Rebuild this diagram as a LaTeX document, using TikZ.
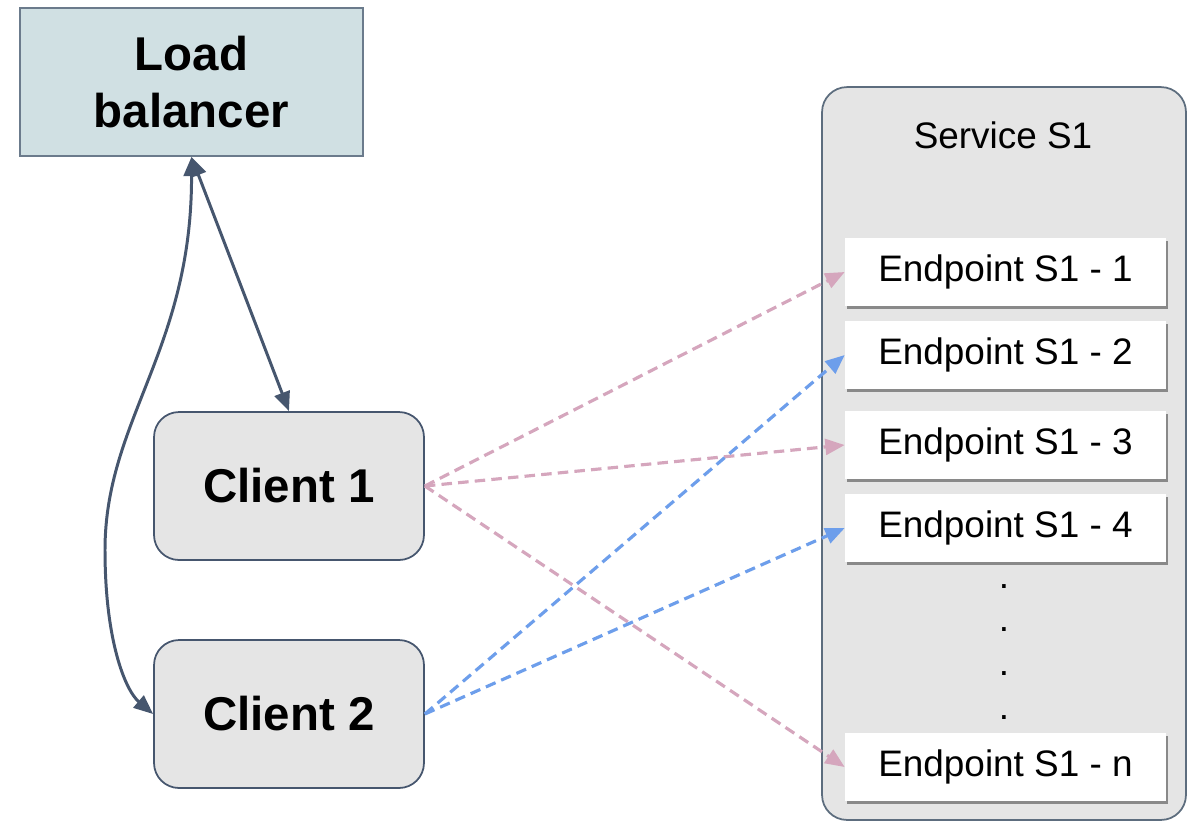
\documentclass[tikz,border=0pt]{standalone}
\usepackage{fontspec}
\setmainfont{Liberation Sans}
\usetikzlibrary{arrows.meta,shadows}
\definecolor{lbfill}{HTML}{D0E0E3}
\definecolor{lbline}{HTML}{6B7B8C}
\definecolor{boxfill}{HTML}{E5E5E5}
\definecolor{slate}{HTML}{46566E}
\definecolor{svcline}{HTML}{5D6D7E}
\definecolor{pinkarrow}{HTML}{D5A6BD}
\definecolor{bluearrow}{HTML}{6D9EEB}
\tikzset{
  lbbox/.style={draw=lbline, fill=lbfill, line width=1pt, inner sep=0pt,
    minimum width=6.86cm, minimum height=2.96cm, align=center,
    font=\fontsize{27}{32}\selectfont\bfseries},
  clientbox/.style={draw=slate, fill=boxfill, line width=1pt, inner sep=0pt,
    rounded corners=0.5cm, minimum width=5.4cm, minimum height=2.96cm,
    font=\fontsize{27}{32}\selectfont\bfseries},
  svcbox/.style={draw=svcline, fill=boxfill, line width=1pt, inner sep=0pt,
    rounded corners=0.5cm, minimum width=7.28cm, minimum height=14.66cm},
  svclabel/.style={font=\fontsize{21}{25}\selectfont, inner sep=0pt},
  epbox/.style={fill=white, inner sep=0pt, minimum width=6.42cm, minimum height=1.36cm,
    font=\fontsize{21}{25}\selectfont,
    drop shadow={shadow xshift=1.2pt, shadow yshift=-1.6pt, opacity=0.4, fill=black}},
  dotmark/.style={font=\fontsize{21}{25}\selectfont, inner sep=0pt, anchor=base},
  link/.style={draw=slate, line width=1.7pt,
    {Triangle[length=11pt,width=9pt]}-{Triangle[length=11pt,width=9pt]}},
  pinklink/.style={draw=pinkarrow, line width=1.8pt, dash pattern=on 6pt off 3.5pt,
    -{Triangle[length=11pt,width=9pt]}},
  bluelink/.style={draw=bluearrow, line width=1.8pt, dash pattern=on 6pt off 3.5pt,
    -{Triangle[length=11pt,width=9pt]}},
}
\begin{document}
\begin{tikzpicture}[x=0.02cm, y=-0.02cm]
  \useasboundingbox (0,0) rectangle (1192,823);

  % load balancer and clients
  \node[lbbox] (lb) at (191.5,82) {Load\\balancer};
  \node[clientbox] (c1) at (289,486) {Client 1};
  \node[clientbox] (c2) at (289,714) {Client 2};

  % service container with its endpoints
  \node[svcbox] (svc) at (1004,453.5) {};
  \node[svclabel] (svctitle) at (1003,135) {Service S1};
  \node[epbox] (e1) at (1005.5,272) {Endpoint S1 - 1};
  \node[epbox] (e2) at (1005.5,355) {Endpoint S1 - 2};
  \node[epbox] (e3) at (1005.5,445) {Endpoint S1 - 3};
  \node[epbox] (e4) at (1005.5,528) {Endpoint S1 - 4};
  \node[epbox] (en) at (1005.5,767) {Endpoint S1 - n};
  \node[dotmark] (d1) at (1004,588) {.};
  \node[dotmark] (d2) at (1004,631) {.};
  \node[dotmark] (d3) at (1004,675) {.};
  \node[dotmark] (d4) at (1004,719) {.};

  % load balancer <-> clients
  \draw[link] (lb.south) -- (c1.north);
  \draw[link] (lb.south) .. controls (192,350) and (105,420) .. (105,550)
      .. controls (105,640) and (125,690) .. (c2.west);

  % client 1 requests
  \draw[pinklink] (c1.east) -- (e1.west);
  \draw[pinklink] (c1.east) -- (e3.west);
  \draw[pinklink] (c1.east) -- (en.west);

  % client 2 requests
  \draw[bluelink] (c2.east) -- (e2.west);
  \draw[bluelink] (c2.east) -- (e4.west);
\end{tikzpicture}
\end{document}
